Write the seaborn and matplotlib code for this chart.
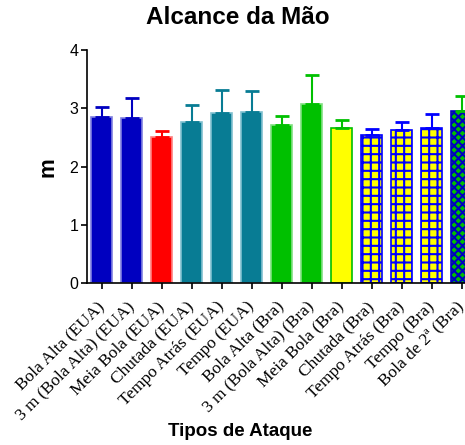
import matplotlib
matplotlib.use("Agg")
import matplotlib.pyplot as plt
import seaborn as sns
import pandas as pd
import numpy as np

categories = ["Bola Alta (EUA)", "3 m (Bola Alta) (EUA)", "Meia Bola (EUA)",
              "Chutada (EUA)", "Tempo Atrás (EUA)", "Tempo (EUA)",
              "Bola Alta (Bra)", "3 m (Bola Alta) (Bra)", "Meia Bola (Bra)",
              "Chutada (Bra)", "Tempo Atrás (Bra)", "Tempo (Bra)", "Bola de 2ª (Bra)"]
means = [2.85, 2.83, 2.51, 2.76, 2.92, 2.93, 2.71, 3.08, 2.66, 2.55, 2.62, 2.66, 2.95]
upper = [3.02, 3.18, 2.61, 3.06, 3.31, 3.30, 2.87, 3.57, 2.80, 2.65, 2.77, 2.91, 3.21]
face_colors = ["#0000C0", "#0000C0", "#FF0000", "#087C94", "#087C94", "#087C94",
               "#00C000", "#00C000", "#FFFF00", "#FFFF00", "#FFFF00", "#FFFF00", "#00C000"]
edge_colors = ["#8080E0", "#8080E0", "#FF8080", "#80C0D0", "#80C0D0", "#80C0D0",
               "#80E080", "#80E080", "#00C000", "#0000FF", "#0000FF", "#0000FF", "#00C000"]
err_colors = ["#0000C0", "#0000C0", "#FF0000", "#087C94", "#087C94", "#087C94",
              "#00C000", "#00C000", "#00C000", "#0000FF", "#0000FF", "#0000FF", "#00C000"]
hatches = [None] * 9 + ["++", "++", "++", "xxxx"]

df = pd.DataFrame({"cat": categories, "val": means})

sns.set_style("ticks")
plt.rcParams["font.family"] = ["Liberation Sans", "DejaVu Sans"]
plt.rcParams["hatch.linewidth"] = 1.5
for k in ["text.color", "axes.labelcolor", "xtick.color", "ytick.color", "axes.edgecolor"]:
    plt.rcParams[k] = "black"

fig = plt.figure(figsize=(4.65, 4.45), dpi=100)
ax = fig.add_axes([86.7 / 465, 1 - 283.3 / 445, 390 / 465, 233.3 / 445])

sns.barplot(data=df, x="cat", y="val", hue="cat", palette=face_colors,
            legend=False, width=0.69, ax=ax, errorbar=None, saturation=1)

for i, p in enumerate(ax.patches):
    p.set_linewidth(1.2)
    if hatches[i]:
        p.set_hatch(hatches[i])
        p.set_edgecolor("#0000FF" if i < 12 else "#0000C0")
    else:
        p.set_edgecolor(edge_colors[i])

xs = np.arange(len(categories))
for i in range(len(categories)):
    ax.errorbar(xs[i], means[i], yerr=[[0], [upper[i] - means[i]]], fmt="none",
                ecolor=err_colors[i], elinewidth=1.5, capsize=5, capthick=2)

ax.set_xlim(-0.5, 12.5)
ax.set_ylim(0, 4)
ax.set_yticks([0, 1, 2, 3, 4])
ax.tick_params(axis="y", labelsize=11.5, length=4, width=1.2, pad=2)
ax.tick_params(axis="x", length=4, width=1.2)
ax.set_xticks(xs)
ax.set_xticklabels(categories, rotation=45, ha="right", va="center",
                   rotation_mode="anchor", family="Liberation Serif", fontsize=12.5)
for lab in ax.get_xticklabels():
    lab.set_y(-0.045)
ax.set_xlabel("")
ax.set_ylabel("m", fontsize=16, fontweight="bold", labelpad=8)
for s in ["top", "right"]:
    ax.spines[s].set_visible(False)
for s in ["left", "bottom"]:
    ax.spines[s].set_linewidth(1.2)

fig.text(238 / 465, 1 - 17 / 445, "Alcance da Mão", ha="center", va="center",
         fontsize=17.5, fontweight="bold")
fig.text(240 / 465, 1 - 432 / 445, "Tipos de Ataque", ha="center", va="center",
         fontsize=13.5, fontweight="bold")

fig.savefig("out.png", dpi=100)
